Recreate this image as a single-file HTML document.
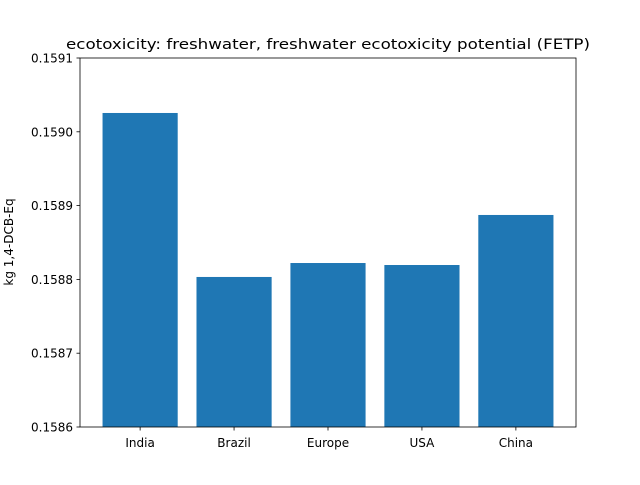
<!DOCTYPE html>
<html><head><meta charset="utf-8"><style>
body{margin:0;background:#fff;}
text{font-family:"DejaVu Sans","Liberation Sans",sans-serif;}
</style></head><body>
<svg id="chart" width="640" height="480" xmlns="http://www.w3.org/2000/svg">
<rect width="640" height="480" fill="#fff"/>
<text x="66" y="49" font-size="14.4" textLength="524" lengthAdjust="spacingAndGlyphs">ecotoxicity: freshwater, freshwater ecotoxicity potential (FETP)</text>
<text transform="translate(13,242) rotate(-90)" font-size="12" text-anchor="middle">kg 1,4-DCB-Eq</text>
<g id="bars"></g><g id="axes"></g>
</svg>
<script>
const categories=["India","Brazil","Europe","USA","China"];
const values=[0.1590255,0.1588033,0.1588222,0.1588195,0.1588873];
const yTicks=[0.1586,0.1587,0.1588,0.1589,0.1590,0.1591];
const yTickLabels=["0.1586","0.1587","0.1588","0.1589","0.1590","0.1591"];
const L=80,R=576,T=58,B=427,ymin=0.1586,ymax=0.1591,xmin=-0.64,xmax=4.64;
const ns="http://www.w3.org/2000/svg";
const xs=v=>L+(v-xmin)/(xmax-xmin)*(R-L);
const ys=v=>B-(v-ymin)/(ymax-ymin)*(B-T);
const bars=document.getElementById('bars'),axes=document.getElementById('axes');
function mk(tag,a,p){const e=document.createElementNS(ns,tag);for(const k in a)e.setAttribute(k,a[k]);p.appendChild(e);return e;}
categories.forEach((c,i)=>{
 const x0=xs(i-0.4),x1=xs(i+0.4),y=ys(values[i]);
 const r=mk('rect',{x:x0,y:y,width:x1-x0,height:B-y,fill:'#1f77b4'},bars);
 
 
 mk('line',{x1:xs(i),x2:xs(i),y1:B,y2:B+3.5,stroke:'#000','stroke-width':0.8},axes);
 const t=mk('text',{x:xs(i),y:B+20,'font-size':12,'text-anchor':'middle'},axes);
 t.textContent=c;
 
 
});
yTicks.forEach((v,i)=>{
 const y=ys(v);
 mk('line',{x1:L-3.5,x2:L,y1:y,y2:y,stroke:'#000','stroke-width':0.8},axes);
 const t=mk('text',{x:L-7,y:y+4.5,'font-size':12,'text-anchor':'end'},axes);
 t.textContent=yTickLabels[i];
 
 
});
const f=mk('rect',{x:L,y:T,width:R-L,height:B-T,fill:'none',stroke:'#000','stroke-width':0.8},axes);


</script>
</body></html>
